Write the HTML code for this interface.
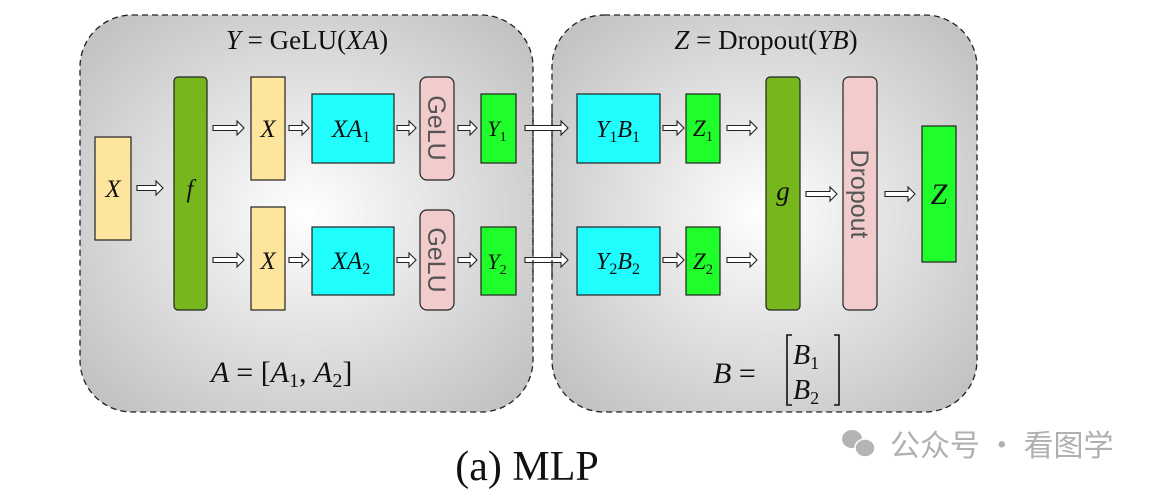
<!DOCTYPE html>
<html><head><meta charset="utf-8"><style>
html,body{margin:0;padding:0;background:#fff;width:1164px;height:492px;overflow:hidden}
svg{display:block}
.m{font-family:"Liberation Serif",serif;font-style:italic;fill:#111}
.r{font-family:"Liberation Serif",serif;fill:#111}
.s{font-family:"Liberation Sans",sans-serif;fill:#555}
</style></head><body>
<svg width="1164" height="492" viewBox="0 0 1164 492" xmlns="http://www.w3.org/2000/svg">
<defs>
<radialGradient id="g1" cx="0.5" cy="0.5" r="0.65">
<stop offset="0" stop-color="#ffffff"/><stop offset="1" stop-color="#c2c2c2"/>
</radialGradient>
</defs>
<rect x="80" y="15" width="453" height="397" rx="52" fill="url(#g1)" stroke="#222" stroke-width="1.3" stroke-dasharray="6,4"/>
<rect x="552" y="15" width="425" height="397" rx="52" fill="url(#g1)" stroke="#222" stroke-width="1.3" stroke-dasharray="6,4"/>

<g stroke="#222" stroke-width="1.2">
<rect x="95" y="137" width="36" height="103" fill="#fde59d"/>
<rect x="174" y="77" width="33" height="233" rx="4" fill="#76b71d"/>
<rect x="251" y="77" width="34" height="103" fill="#fde59d"/>
<rect x="251" y="207" width="34" height="103" fill="#fde59d"/>
<rect x="312" y="94" width="82" height="69" fill="#1ffdfd"/>
<rect x="312" y="227" width="82" height="68" fill="#1ffdfd"/>
<rect x="420" y="77" width="34" height="103" rx="7" fill="#f2cccc"/>
<rect x="420" y="210" width="34" height="100" rx="7" fill="#f2cccc"/>
<rect x="481" y="94" width="35" height="69" fill="#1ffd2a"/>
<rect x="481" y="227" width="35" height="68" fill="#1ffd2a"/>
<rect x="577" y="94" width="83" height="69" fill="#1ffdfd"/>
<rect x="577" y="227" width="83" height="68" fill="#1ffdfd"/>
<rect x="686" y="94" width="34" height="69" fill="#1ffd2a"/>
<rect x="686" y="227" width="34" height="68" fill="#1ffd2a"/>
<rect x="766" y="77" width="34" height="233" rx="4" fill="#76b71d"/>
<rect x="843" y="77" width="34" height="233" rx="6" fill="#f2cccc"/>
<rect x="922" y="126" width="34" height="136" fill="#1ffd2a"/>
</g>

<g fill="#fff" stroke="#222" stroke-width="1.1">
<polygon points="137,185.5 156,185.5 156,181 163,188 156,195 156,190.5 137,190.5"/>
<polygon points="213,125.5 237,125.5 237,121 244,128 237,135 237,130.5 213,130.5"/>
<polygon points="213,257.5 237,257.5 237,253 244,260 237,267 237,262.5 213,262.5"/>
<polygon points="289,125.5 302,125.5 302,121 309,128 302,135 302,130.5 289,130.5"/>
<polygon points="289,257.5 302,257.5 302,253 309,260 302,267 302,262.5 289,262.5"/>
<polygon points="397,125.5 409,125.5 409,121 416,128 409,135 409,130.5 397,130.5"/>
<polygon points="397,257.5 409,257.5 409,253 416,260 409,267 409,262.5 397,262.5"/>
<polygon points="458,125.5 470,125.5 470,121 477,128 470,135 470,130.5 458,130.5"/>
<polygon points="458,257.5 470,257.5 470,253 477,260 470,267 470,262.5 458,262.5"/>
<polygon points="525,125.5 561,125.5 561,121 568,128 561,135 561,130.5 525,130.5"/>
<polygon points="525,257.5 561,257.5 561,253 568,260 561,267 561,262.5 525,262.5"/>
<polygon points="663,125.5 677,125.5 677,121 684,128 677,135 677,130.5 663,130.5"/>
<polygon points="663,257.5 677,257.5 677,253 684,260 677,267 677,262.5 663,262.5"/>
<polygon points="727,125.5 750,125.5 750,121 757,128 750,135 750,130.5 727,130.5"/>
<polygon points="727,257.5 750,257.5 750,253 757,260 750,267 750,262.5 727,262.5"/>
<polygon points="806,191.5 830,191.5 830,187 837,194 830,201 830,196.5 806,196.5"/>
<polygon points="885,191.5 908,191.5 908,187 915,194 908,201 908,196.5 885,196.5"/>
</g>
<g stroke="#222" stroke-width="1.3" stroke-dasharray="6,4" fill="none">
<line x1="533" y1="110" x2="533" y2="280"/>
<line x1="552" y1="110" x2="552" y2="280"/>
</g>

<text x="307" y="49" class="r" font-size="27" text-anchor="middle"><tspan class="m">Y</tspan> = GeLU(<tspan class="m">XA</tspan>)</text>
<text x="766" y="49" class="r" font-size="27" text-anchor="middle"><tspan class="m">Z</tspan> = Dropout(<tspan class="m">YB</tspan>)</text>

<g font-size="25" text-anchor="middle">
<text x="113" y="197" class="m">X</text>
<text x="190" y="197" class="m">f</text>
<text x="268" y="137" class="m">X</text>
<text x="268" y="269" class="m">X</text>
<text x="351" y="137" class="m">XA<tspan font-size="16" font-style="normal" dy="5">1</tspan></text>
<text x="351" y="269" class="m">XA<tspan font-size="16" font-style="normal" dy="5">2</tspan></text>
<text x="497" y="136" class="m" font-size="22">Y<tspan font-size="14" font-style="normal" dy="5">1</tspan></text>
<text x="497" y="269" class="m" font-size="22">Y<tspan font-size="14" font-style="normal" dy="5">2</tspan></text>
<text x="618" y="137" class="m" font-size="24">Y<tspan font-size="16" font-style="normal" dy="5">1</tspan><tspan dy="-5">B</tspan><tspan font-size="16" font-style="normal" dy="5">1</tspan></text>
<text x="618" y="269" class="m" font-size="24">Y<tspan font-size="16" font-style="normal" dy="5">2</tspan><tspan dy="-5">B</tspan><tspan font-size="16" font-style="normal" dy="5">2</tspan></text>
<text x="703" y="136" class="m" font-size="23">Z<tspan font-size="15" font-style="normal" dy="5">1</tspan></text>
<text x="703" y="269" class="m" font-size="23">Z<tspan font-size="15" font-style="normal" dy="5">2</tspan></text>
<text x="783" y="200" class="m" font-size="27">g</text>
<text x="939" y="204" class="m" font-size="30">Z</text>
</g>
<text class="s" font-size="25" text-anchor="middle" transform="translate(428,128) rotate(90)">GeLU</text>
<text class="s" font-size="25" text-anchor="middle" transform="translate(428,260) rotate(90)">GeLU</text>
<text class="s" font-size="25" text-anchor="middle" transform="translate(851,194) rotate(90)">Dropout</text>

<text x="211" y="382" class="m" font-size="30">A <tspan font-style="normal">= [</tspan>A<tspan font-size="20" font-style="normal" dy="5">1</tspan><tspan font-style="normal" dy="-5">, </tspan>A<tspan font-size="20" font-style="normal" dy="5">2</tspan><tspan font-style="normal" dy="-5">]</tspan></text>

<text x="713" y="383" class="m" font-size="30">B <tspan font-style="normal">=</tspan></text>
<path d="M792,335 h-5 v70 h5 M834,335 h5 v70 h-5" fill="none" stroke="#111" stroke-width="1.6"/>
<text x="793" y="364" class="m" font-size="28">B<tspan font-size="18" font-style="normal" dy="5">1</tspan></text>
<text x="793" y="399" class="m" font-size="28">B<tspan font-size="18" font-style="normal" dy="5">2</tspan></text>

<text x="527" y="480" class="r" font-size="42" text-anchor="middle">(a) MLP</text>

<g fill="#b4b4b4">
<ellipse cx="852" cy="439" rx="10" ry="9"/>
<ellipse cx="865" cy="448" rx="10" ry="9" stroke="#fff" stroke-width="1.5"/>
</g>
<text x="890" y="456" font-family="'Noto Sans CJK SC',sans-serif" font-size="30" fill="#b0b0b0">公众号 · 看图学</text>
</svg>
</body></html>
